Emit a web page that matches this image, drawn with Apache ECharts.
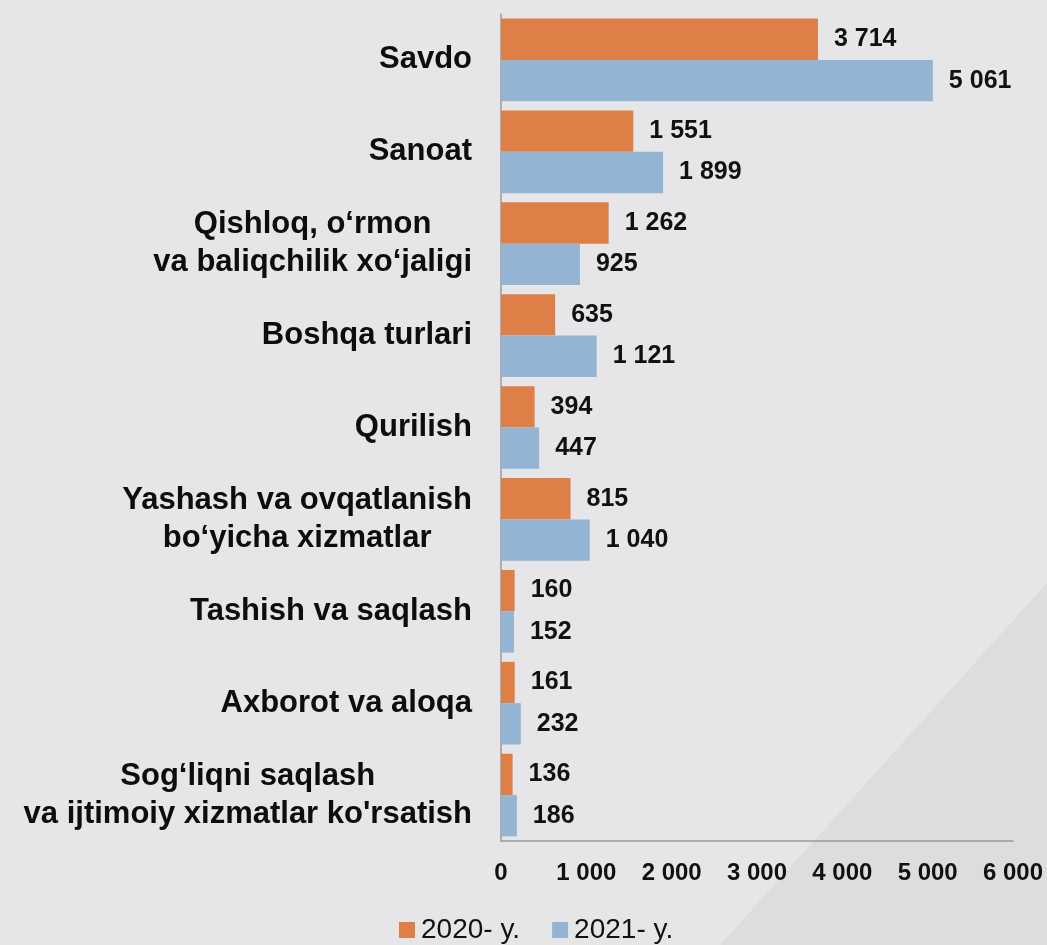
<!DOCTYPE html>
<html>
<head>
<meta charset="utf-8">
<script src="https://cdn.jsdelivr.net/npm/echarts@6/dist/echarts.min.js"></script>
<style>
  html, body { margin: 0; padding: 0; background: #e6e6e8; }
  #chart { width: 1047px; height: 945px; }
</style>
</head>
<body>
<div id="chart"></div>
<script>
  'use strict'
  var categories = [
    'Savdo',
    'Sanoat',
    'Qishloq, o‘rmon\nva baliqchilik xo‘jaligi',
    'Boshqa turlari',
    'Qurilish',
    'Yashash va ovqatlanish\nbo‘yicha xizmatlar',
    'Tashish va saqlash',
    'Axborot va aloqa',
    "Sog‘liqni saqlash\nva ijtimoiy xizmatlar ko'rsatish"
  ];
  var seriesNames = ['2020- y.', '2021- y.'];
  var values2020 = [3714, 1551, 1262, 635, 394, 815, 160, 161, 136];
  var values2021 = [5061, 1899, 925, 1121, 447, 1040, 152, 232, 186];
  var xTicks = [0, 1000, 2000, 3000, 4000, 5000, 6000];

  var font = '"Liberation Sans", Arial, sans-serif';

  function fmt(v) {
    return String(v).replace(/\B(?=(\d{3})+(?!\d))/g, ' ');
  }

  var valueLabel = {
    show: true,
    position: 'right',
    distance: 16,
    fontFamily: font,
    fontSize: 25,
    fontWeight: 'bold',
    color: '#111',
    formatter: function (p) { return fmt(p.value); }
  };

  var option = {
    backgroundColor: '#e6e6e8',
    animation: false,
    color: ['#df7f48', '#94b4d3'],
    graphic: [{
      type: 'polygon',
      silent: true,
      z: -10,
      shape: { points: [[720, 945], [1047, 583], [1047, 945]] },
      style: { fill: '#dddddf' }
    }],
    grid: {
      top: 14,
      right: 34,
      bottom: 104,
      left: 501
    },
    legend: {
      left: 399,
      top: 916,
      padding: 0,
      icon: 'rect',
      itemWidth: 16,
      itemHeight: 16,
      itemGap: 32,
      data: seriesNames,
      textStyle: {
        fontFamily: font,
        fontSize: 28,
        color: '#111',
        padding: [0, 0, 0, 1]
      }
    },
    xAxis: {
      type: 'value',
      min: xTicks[0],
      max: xTicks[xTicks.length - 1],
      interval: 1000,
      splitLine: { show: false },
      axisTick: { show: false },
      axisLine: {
        show: true,
        lineStyle: { color: '#9a9a9a', width: 1.5 }
      },
      axisLabel: {
        margin: 20,
        fontFamily: font,
        fontSize: 24,
        fontWeight: 'bold',
        color: '#111',
        formatter: function (v) { return fmt(v); }
      }
    },
    yAxis: {
      type: 'category',
      inverse: true,
      data: categories,
      axisTick: { show: false },
      axisLine: {
        lineStyle: { color: '#9a9a9a', width: 1.5 }
      },
      axisLabel: {
        margin: 29,
        align: 'right',
        formatter: function (v) {
          return v.split('\n').map(function (s) { return '{c|' + s + '}'; }).join('\n');
        },
        rich: {
          c: {
            align: 'center',
            fontFamily: font,
            fontSize: 31,
            fontWeight: 'bold',
            lineHeight: 38,
            color: '#0d0d0d'
          }
        }
      }
    },
    series: [
      {
        name: seriesNames[0],
        type: 'bar',
        data: values2020,
        barGap: '0%',
        barCategoryGap: '10%',
        label: valueLabel
      },
      {
        name: seriesNames[1],
        type: 'bar',
        data: values2021,
        barGap: '0%',
        barCategoryGap: '10%',
        label: valueLabel
      }
    ]
  };

  var chart = echarts.init(document.getElementById('chart'));
  chart.setOption(option);
</script>
</body>
</html>
